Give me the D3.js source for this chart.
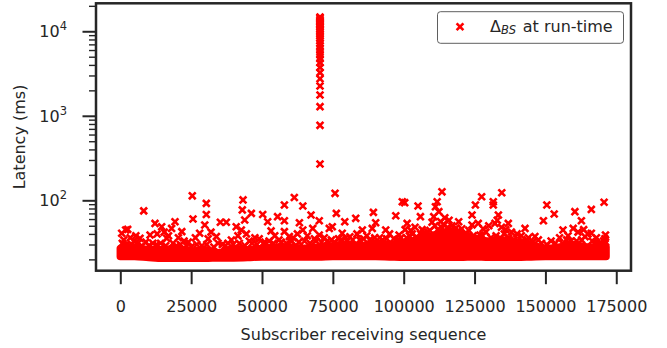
<!DOCTYPE html>
<html>
<head>
<meta charset="utf-8">
<script src="https://cdn.jsdelivr.net/npm/d3@7"></script>
<style>
  html, body { margin: 0; padding: 0; background: #fff; }
  svg { display: block; font-family: "DejaVu Sans", sans-serif; }
</style>
</head>
<body>
<svg id="chart" width="667" height="348"></svg>
<script>
// ---------------- data ----------------
const xTicks = [0, 25000, 50000, 75000, 100000, 125000, 150000, 175000];
const yMajorTicks = [100, 1000, 10000];
const yMajorExponents = ["2", "3", "4"];
const yMinorTicks = [20, 30, 40, 50, 60, 70, 80, 90, 200, 300, 400, 500, 600, 700, 800, 900,
                     2000, 3000, 4000, 5000, 6000, 7000, 8000, 9000, 20000];

// dense band of run-time latencies (lower / upper envelope of the solid mass)
const bandX    = [0, 5000, 10000, 15000, 20000, 25000, 30000, 35000, 40000, 45000, 50000, 55000,
                  60000, 65000, 70000, 75000, 80000, 85000, 90000, 95000, 100000, 105000, 110000,
                  115000, 120000, 125000, 130000, 135000, 140000, 145000, 150000, 155000, 160000,
                  165000, 171400];
const bandLow  = [21.6, 21.6, 21.0, 20.6, 20.6, 20.6, 20.6, 20.8, 20.8, 21.0, 21.4, 21.4,
                  21.4, 21.4, 21.4, 21.6, 21.6, 21.6, 21.6, 21.4, 21.2, 21.2, 21.2,
                  21.2, 21.2, 21.4, 21.2, 21.2, 21.2, 21.4, 21.6, 21.6, 21.6,
                  21.6, 21.6];
const bandHigh = [27, 28, 26, 26, 27, 25, 26, 24, 27, 26, 27, 28,
                  28, 27, 28, 29, 30, 29, 31, 30, 32, 34, 38,
                  42, 40, 36, 33, 34, 32, 30, 27, 28, 30,
                  28, 28];

// individual samples standing out of the band: [sequence, latency ms]
const outliers = [
  [8260, 75], [1900, 44.5], [490, 40.7], [12250, 53.3], [14600, 48.7], [19300, 55.8], [18100, 46.5],
  [21700, 42.6], [6950, 35.5], [16400, 35.5], [10500, 38.8], [2600, 45.3],
  [3500, 36], [4800, 33], [1200, 34], [9000, 32], [13000, 40], [15500, 42], [17000, 38], [20500, 36],
  [22500, 33], [11500, 31], [5500, 38],
  [25400, 113], [30350, 92], [30350, 68], [25650, 60], [43300, 101], [43050, 77], [46250, 70],
  [35300, 55], [37400, 55], [29800, 51], [40900, 48.7], [43900, 58.5], [33900, 37.2], [39200, 33.9],
  [28000, 40.7], [42700, 44.5],
  [24000, 32], [27000, 30], [31000, 35], [36000, 30], [41500, 38], [44500, 40], [45500, 33],
  [47500, 36], [26500, 36], [32000, 42], [38000, 31],
  [61400, 108], [57900, 88], [64400, 85.7], [50250, 68], [55500, 64], [52000, 55.8], [57900, 57.3],
  [67300, 67], [70200, 57.3], [63200, 54.3], [53200, 43.4], [57900, 42.6], [67900, 46.5], [73750, 46.5],
  [64400, 44.5], [59650, 37.2], [70200, 38.8],
  [49000, 35], [51000, 32], [54500, 38], [56000, 34], [61000, 36], [62500, 40], [66000, 38],
  [69000, 33], [72000, 36], [74500, 34], [60500, 33],
  [75770, 121], [76230, 70], [83070, 61.2], [89300, 72], [97200, 65.6], [99500, 96], [79200, 55.8],
  [90100, 54.3], [74800, 48.7], [85400, 44.5], [93650, 44.5], [98350, 38.8], [88900, 46.5], [78300, 40.7],
  [77000, 35], [81000, 37], [83500, 40], [87000, 38], [91500, 36], [95000, 40], [96500, 35],
  [80000, 33], [84500, 34],
  [113500, 126], [100350, 93.7], [105050, 85.7], [111800, 96], [111200, 84], [112400, 73.4],
  [105900, 64], [124100, 67], [125300, 88], [101200, 53.3], [119400, 55.8], [124100, 51],
  [121750, 40.7], [107100, 40.7], [110600, 64],
  [110000, 55], [111000, 50], [113000, 56], [114000, 52], [115500, 48], [117000, 50], [118500, 47],
  [120500, 46], [112000, 45], [116000, 58], [114500, 62], [102500, 44], [104000, 48], [106500, 45],
  [108500, 42], [123000, 44], [102000, 38], [100500, 45], [103000, 40],
  [134600, 123], [127500, 110], [131600, 96], [131600, 88], [150500, 88], [149300, 57.3],
  [126300, 53.3], [133400, 67], [136900, 53.3], [142800, 46.5], [146300, 37.2], [126900, 38.8],
  [132200, 53.3],
  [128000, 46], [130000, 50], [133000, 58], [134500, 48], [136000, 45], [138000, 42], [140000, 40],
  [141500, 38], [144000, 36], [129000, 42], [135500, 40], [147500, 34],
  [170700, 94.7], [166200, 78], [160400, 73.4], [153100, 68.8], [162700, 57.3], [159800, 46.5],
  [166200, 40.7], [171200, 38.8], [156200, 44.5],
  [158000, 38], [161500, 42], [163500, 45], [165000, 40], [168000, 36], [170500, 33], [155000, 36],
  [152000, 33], [157500, 34], [169000, 31], [171000, 35], [164000, 37], [171200, 32],
  // fringe just above the solid mass
  [700, 31], [2200, 30], [4000, 30], [6200, 31], [7600, 29], [10000, 29], [12800, 30], [14200, 31],
  [16000, 29], [18600, 31], [19800, 29], [21200, 30], [23300, 29], [25000, 28], [28800, 29],
  [30500, 30], [33000, 28], [34500, 31], [37000, 29], [39800, 30], [42000, 31], [44000, 29],
  [46500, 31], [48200, 30], [50500, 31], [52500, 33], [54000, 31], [56800, 32], [58600, 31],
  [60000, 34], [63000, 32], [65000, 33], [67000, 31], [68500, 35], [71000, 32], [73000, 33],
  [75500, 32], [78000, 34], [79500, 36], [82000, 34], [85800, 35], [88000, 34], [89800, 36],
  [92500, 34], [94000, 35], [97800, 34], [99000, 36], [101000, 36], [104500, 37], [106000, 40],
  [107800, 38], [109200, 44], [113600, 47], [116800, 45], [119000, 43], [121800, 38],
  [124500, 38], [126000, 35], [127800, 38], [130800, 36], [132600, 38], [134000, 36],
  [137000, 36], [139000, 34], [142000, 33], [143500, 34], [145500, 32], [148600, 31],
  [150500, 30], [153500, 31], [156000, 31], [159000, 33], [161000, 33], [162800, 34],
  [166500, 33], [167800, 32], [169800, 30]
];

// the burst of delayed messages around sequence ~70 500
const spikeX = 70470;
const spikeLatency = [269, 771, 1282, 1763, 2250, 2740, 3240, 3740, 4240, 4740, 5240, 5740, 6240,
                      6740, 7240, 7740, 8240, 8740, 9240, 9740, 10240, 10740, 11240, 11740, 12240,
                      12740, 13240, 13740, 14240, 14740];

const legendLabel = { main: "Δ", sub: "BS", rest: " at run-time" };
const xLabel = "Subscriber receiving sequence";
const yLabel = "Latency (ms)";

// ---------------- layout ----------------
const plot = { left: 96, right: 631, top: 3.3, bottom: 270.7 };
const ink = "#262626";
const red = "#ff0000";
const markerStroke = 2.6;

const svg = d3.select("#chart");

const x = d3.scaleLinear().domain([-8575, 180200]).range([plot.left, plot.right]);
const y = d3.scaleLog().domain([14.69, 21430]).range([plot.bottom, plot.top]);

svg.append("clipPath").attr("id", "clip")
  .append("rect").attr("x", plot.left).attr("y", plot.top)
  .attr("width", plot.right - plot.left).attr("height", plot.bottom - plot.top);

const marks = svg.append("g").attr("clip-path", "url(#clip)");

// band
const bandData = bandX.map((v, i) => ({ x: v, lo: bandLow[i], hi: bandHigh[i] }));
const area = d3.area()
  .x(d => x(d.x)).y0(d => y(d.lo)).y1(d => y(d.hi))
  .curve(d3.curveMonotoneX);
marks.append("path").datum(bandData)
  .attr("d", area)
  .attr("fill", red).attr("stroke", red)
  .attr("stroke-width", 7.5).attr("stroke-linejoin", "round");

const xMarker = "M-3.4,-3.4L3.4,3.4M-3.4,3.4L3.4,-3.4";

marks.selectAll("path.out").data(outliers).enter().append("path")
  .attr("class", "out")
  .attr("transform", d => `translate(${x(d[0])},${y(d[1])})`)
  .attr("d", xMarker).attr("stroke", red).attr("stroke-width", markerStroke).attr("fill", "none");

marks.selectAll("path.spike").data(spikeLatency).enter().append("path")
  .attr("class", "spike")
  .attr("transform", d => `translate(${x(spikeX)},${y(d)})`)
  .attr("d", xMarker).attr("stroke", red).attr("stroke-width", markerStroke).attr("fill", "none");

// ---------------- axes ----------------
const xAxis = d3.axisBottom(x).tickValues(xTicks).tickSize(13.5).tickPadding(14).tickFormat(d3.format("d"));
const gx = svg.append("g").attr("transform", `translate(0,${plot.bottom})`).call(xAxis);
gx.select(".domain").remove();
gx.selectAll(".tick line").attr("stroke", ink).attr("stroke-width", 2);
gx.selectAll(".tick text").attr("fill", ink).attr("font-size", 16)
  .attr("font-family", "DejaVu Sans").attr("dy", null).attr("y", 41);

const yMinorAxis = d3.axisLeft(y).tickValues(yMinorTicks).tickSize(7).tickFormat("");
const gym = svg.append("g").attr("transform", `translate(${plot.left},0)`).call(yMinorAxis);
gym.select(".domain").remove();
gym.selectAll(".tick line").attr("stroke", ink).attr("stroke-width", 1.4);

const yAxis = d3.axisLeft(y).tickValues(yMajorTicks).tickSize(13.5).tickFormat("");
const gy = svg.append("g").attr("transform", `translate(${plot.left},0)`).call(yAxis);
gy.select(".domain").remove();
gy.selectAll(".tick line").attr("stroke", ink).attr("stroke-width", 2);

const yLabels = svg.append("g");
yMajorTicks.forEach((t, i) => {
  const txt = yLabels.append("text")
    .attr("x", 67).attr("y", y(t) + 6)
    .attr("text-anchor", "end").attr("fill", ink)
    .attr("font-size", 16).attr("font-family", "DejaVu Sans");
  txt.append("tspan").text("10");
  txt.append("tspan").attr("dy", -7).attr("font-size", 11.5).text(yMajorExponents[i]);
});

// frame
svg.append("rect")
  .attr("x", plot.left).attr("y", plot.top)
  .attr("width", plot.right - plot.left).attr("height", plot.bottom - plot.top)
  .attr("fill", "none").attr("stroke", ink).attr("stroke-width", 2.5);

// axis titles
svg.append("text").attr("x", (plot.left + plot.right) / 2).attr("y", 340)
  .attr("text-anchor", "middle").attr("fill", ink).attr("font-size", 16).text(xLabel);
svg.append("text")
  .attr("transform", `translate(24.5,${(plot.top + plot.bottom) / 2}) rotate(-90)`)
  .attr("text-anchor", "middle").attr("fill", ink).attr("font-size", 16).text(yLabel);

// legend
const lg = svg.append("g");
lg.append("rect").attr("x", 437.5).attr("y", 11.7).attr("width", 186).attr("height", 31.6)
  .attr("rx", 3).attr("fill", "#fff").attr("fill-opacity", 0.8)
  .attr("stroke", "#4d4d4d").attr("stroke-width", 0.9);
lg.append("path").attr("transform", "translate(460,26.7)").attr("d", xMarker)
  .attr("stroke", red).attr("stroke-width", markerStroke).attr("fill", "none");
const lt = lg.append("text").attr("x", 490).attr("y", 31.7).attr("fill", ink).attr("font-size", 16);
lt.append("tspan").text(legendLabel.main);
lt.append("tspan").attr("dy", 2.5).attr("font-size", 11.5).attr("font-style", "italic").text(legendLabel.sub);
lt.append("tspan").attr("dy", -2.5).attr("font-size", 16).attr("dx", 1.5).text(legendLabel.rest);
</script>
</body>
</html>
